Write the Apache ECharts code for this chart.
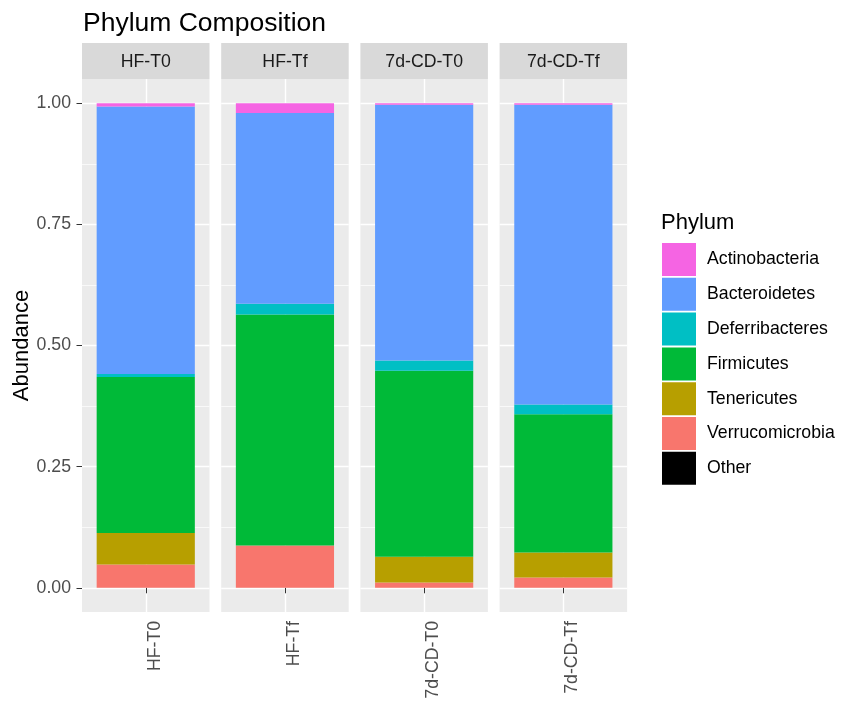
<!DOCTYPE html>
<html><head><meta charset="utf-8">
<script src="https://cdn.jsdelivr.net/npm/echarts@6/dist/echarts.min.js"></script>
<style>html,body{margin:0;padding:0;background:#fff}#c{width:843px;height:702px}</style>
</head><body><div id="c"></div>
<script>
const samples = ['HF-T0', 'HF-Tf', '7d-CD-T0', '7d-CD-Tf'];
const phyla = ['Actinobacteria', 'Bacteroidetes', 'Deferribacteres', 'Firmicutes', 'Tenericutes', 'Verrucomicrobia', 'Other'];
const colors = ['#F564E3', '#619CFF', '#00BFC4', '#00BA38', '#B79F00', '#F8766D', '#000000'];
const actinobacteria = [0.007, 0.020, 0.003, 0.003];
const bacteroidetes = [0.552, 0.394, 0.528, 0.619];
const deferribacteres = [0.006, 0.022, 0.021, 0.020];
const firmicutes = [0.322, 0.477, 0.384, 0.285];
const tenericutes = [0.065, 0.000, 0.053, 0.052];
const verrucomicrobia = [0.048, 0.087, 0.011, 0.021];
const other = [0, 0, 0, 0];
const yTicks = [0, 0.25, 0.5, 0.75, 1];
const yMinorTicks = [0.125, 0.375, 0.625, 0.875];

const values = [actinobacteria, bacteroidetes, deferribacteres, firmicutes, tenericutes, verrucomicrobia, other];
const FONT = 'Liberation Sans, Arial, sans-serif';
const panelLeft = 82, panelStep = 139.2, panelW = 127.5, panelTop = 79, panelH = 533;

const grid = [], xAxis = [], yAxis = [], series = [], graphic = [];
samples.forEach((s, i) => {
  const left = panelLeft + i * panelStep;
  grid.push({ left: left, top: panelTop, width: panelW, height: panelH, show: true, backgroundColor: '#EBEBEB', borderWidth: 0, containLabel: false });
  xAxis.push({
    type: 'category', gridIndex: i, data: [s], position: 'bottom',
    axisLine: { show: false },
    axisTick: { show: true, alignWithLabel: true, length: 5.5, lineStyle: { color: '#333333', width: 1 } },
    axisLabel: { show: true, rotate: 90, verticalAlign: 'top', margin: 9, color: '#4D4D4D', fontSize: 17.7, fontFamily: FONT },
    splitLine: { show: false }
  });
  xAxis.push({
    type: 'value', gridIndex: i, min: 0, max: 1.2, interval: 0.6, position: 'top',
    axisLine: { show: false }, axisLabel: { show: false },
    axisTick: { show: false, customValues: [0.6] },
    splitLine: { show: true, lineStyle: { color: '#FFFFFF', width: 1.4 } }
  });
  yAxis.push({
    type: 'value', gridIndex: i, min: -0.05, max: 1.05, position: 'left',
    name: i === 0 ? 'Abundance' : '', nameLocation: 'middle', nameGap: 49,
    nameTextStyle: { fontSize: 22, color: '#000000', fontFamily: FONT },
    axisLine: { show: false },
    axisTick: { show: i === 0, customValues: yTicks, length: 5.5, lineStyle: { color: '#333333', width: 1 } },
    axisLabel: { show: i === 0, customValues: yTicks, margin: 11, color: '#4D4D4D', fontSize: 17.7, fontFamily: FONT, formatter: v => v.toFixed(2) },
    splitLine: { show: true, lineStyle: { color: '#FFFFFF', width: 1.4 } }
  });
  yAxis.push({
    type: 'value', gridIndex: i, min: -0.05, max: 1.05, position: 'left',
    axisLine: { show: false }, axisLabel: { show: false },
    axisTick: { show: false, customValues: yMinorTicks },
    splitLine: { show: true, lineStyle: { color: '#FFFFFF', width: 0.7 } }
  });
  for (let p = phyla.length - 1; p >= 0; p--) {
    series.push({
      type: 'bar', name: phyla[p], xAxisIndex: 2 * i, yAxisIndex: 2 * i, stack: 'panel' + i,
      barWidth: '77%', data: [values[p][i]],
      itemStyle: { color: colors[p], borderWidth: 0 },
      emphasis: { disabled: true }, silent: true
    });
  }
  graphic.push({ type: 'rect', left: left, top: 43, shape: { width: panelW, height: 36 }, style: { fill: '#D9D9D9' } });
  graphic.push({ type: 'text', x: left + panelW / 2, y: 62, style: { text: s, align: 'center', verticalAlign: 'middle', fill: '#1A1A1A', font: '17.7px ' + FONT } });
});

const chart = echarts.init(document.getElementById('c'), null, { renderer: 'canvas' });
chart.setOption({
  animation: false,
  backgroundColor: '#FFFFFF',
  textStyle: { fontFamily: FONT },
  title: [
    { text: 'Phylum Composition', left: 78, top: 5, textStyle: { fontSize: 26.5, fontWeight: 'normal', color: '#000000', fontFamily: FONT } },
    { text: 'Phylum', left: 656, top: 207, textStyle: { fontSize: 22, fontWeight: 'normal', color: '#000000', fontFamily: FONT } }
  ],
  legend: {
    orient: 'vertical', left: 657, top: 238, data: phyla, icon: 'rect',
    itemWidth: 34, itemHeight: 33, itemGap: 1.8, selectedMode: false,
    itemStyle: { borderWidth: 0 },
    textStyle: { fontSize: 17.7, color: '#000000', fontFamily: FONT, padding: [0, 0, 0, 6] }
  },
  grid: grid, xAxis: xAxis, yAxis: yAxis, series: series, graphic: graphic
});
</script>
</body></html>
